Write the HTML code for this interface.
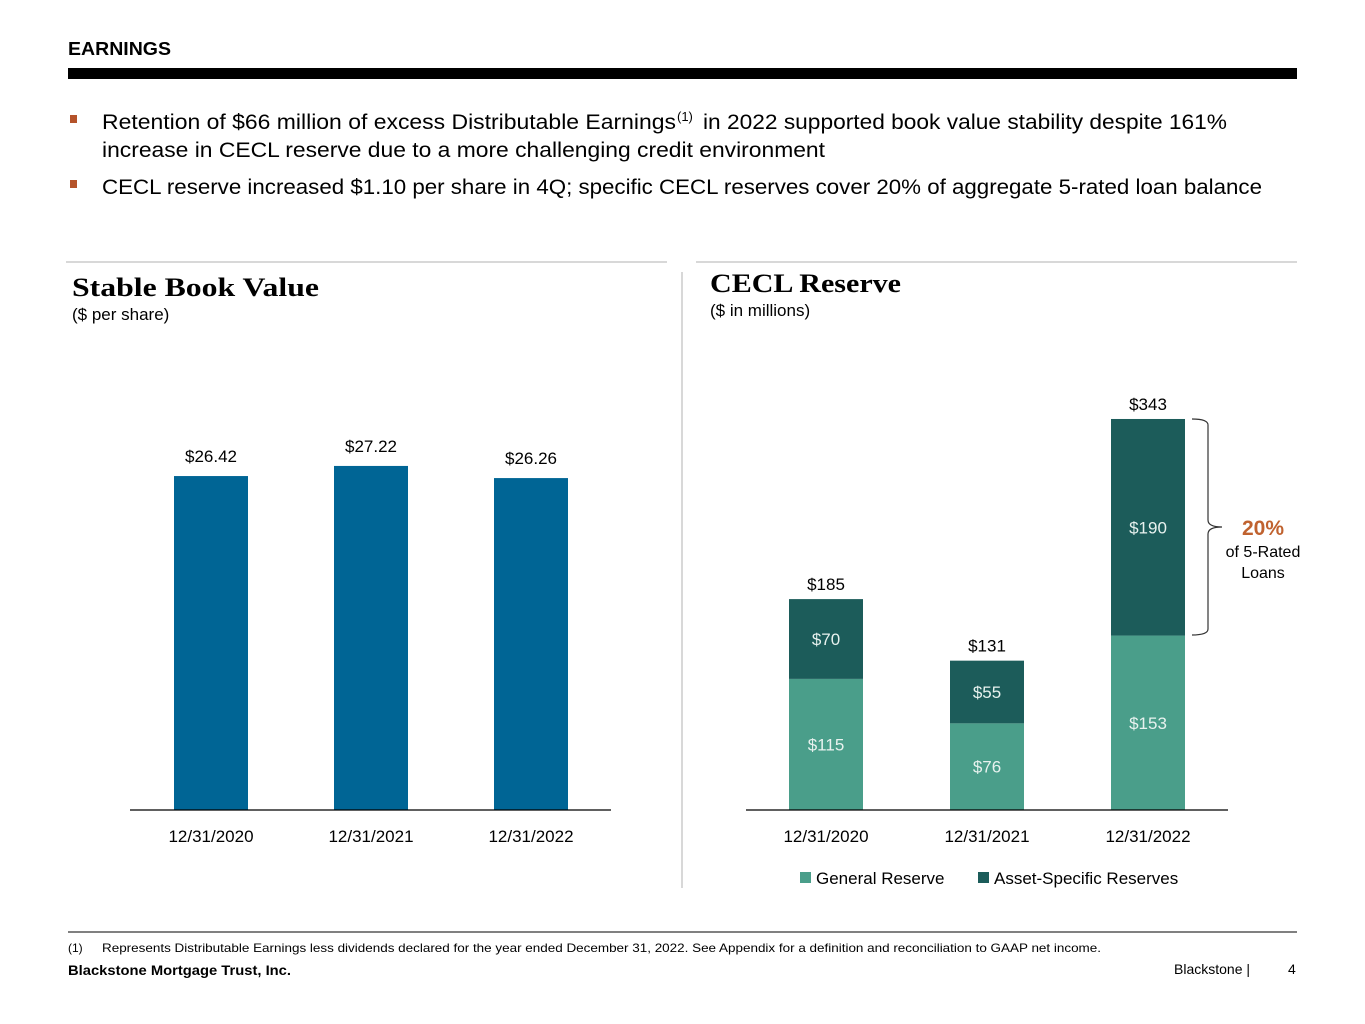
<!DOCTYPE html>
<html><head><meta charset="utf-8"><style>
body{margin:0;background:#fff;font-family:"Liberation Sans",sans-serif;}
svg{display:block}
</style></head><body>
<svg width="1365" height="1024" xmlns="http://www.w3.org/2000/svg" font-family="Liberation Sans, sans-serif">
<text x="68" y="55" font-size="18" font-weight="bold" fill="#000" textLength="103" lengthAdjust="spacingAndGlyphs">EARNINGS</text>
<rect x="68" y="68" width="1229" height="11" fill="#000"/>
<rect x="70" y="115" width="7" height="8" fill="#b5532a"/>
<text x="102" y="129" font-size="21" fill="#000" textLength="574" lengthAdjust="spacingAndGlyphs">Retention of $66 million of excess Distributable Earnings</text>
<text x="677" y="121" font-size="13" fill="#000">(1)</text>
<text x="703" y="129" font-size="21" fill="#000" textLength="524" lengthAdjust="spacingAndGlyphs">in 2022 supported book value stability despite 161%</text>
<text x="102" y="157" font-size="21" fill="#000" textLength="723" lengthAdjust="spacingAndGlyphs">increase in CECL reserve due to a more challenging credit environment</text>
<rect x="70" y="180" width="7" height="8" fill="#b5532a"/>
<text x="102" y="194" font-size="21" fill="#000" textLength="1160" lengthAdjust="spacingAndGlyphs">CECL reserve increased $1.10 per share in 4Q; specific CECL reserves cover 20% of aggregate 5-rated loan balance</text>
<line x1="66" y1="262" x2="667" y2="262" stroke="#ccc" stroke-width="1.5"/>
<line x1="696" y1="262" x2="1297" y2="262" stroke="#ccc" stroke-width="1.5"/>
<line x1="682" y1="272" x2="682" y2="888" stroke="#ccc" stroke-width="1.5"/>
<text x="72" y="296" font-size="26" font-weight="bold" font-family="Liberation Serif, serif" fill="#000" textLength="247" lengthAdjust="spacingAndGlyphs">Stable Book Value</text>
<text x="72" y="320" font-size="17" fill="#000">($ per share)</text>
<text x="710" y="292" font-size="26" font-weight="bold" font-family="Liberation Serif, serif" fill="#000" textLength="191" lengthAdjust="spacingAndGlyphs">CECL Reserve</text>
<text x="710" y="316" font-size="17" fill="#000">($ in millions)</text>
<g id="left"></g><g id="right"></g>
<path d="M1192 419 Q1208 419 1208 425 L1208 520 Q1208 527 1222 527 Q1208 527 1208 534 L1208 629 Q1208 635 1192 635" fill="none" stroke="#333" stroke-width="1.2"/>
<text x="1263" y="535" font-size="21" font-weight="bold" fill="#c0622f" text-anchor="middle">20%</text>
<text x="1263" y="557" font-size="16" fill="#000" text-anchor="middle">of 5-Rated</text>
<text x="1263" y="578" font-size="16" fill="#000" text-anchor="middle">Loans</text>
<rect x="800" y="872" width="11" height="11" fill="#4a9e8a"/>
<text x="816" y="884" font-size="17" fill="#000">General Reserve</text>
<rect x="978" y="872" width="11" height="11" fill="#1c5c5a"/>
<text x="994" y="884" font-size="17" fill="#000">Asset-Specific Reserves</text>
<line x1="68" y1="932" x2="1297" y2="932" stroke="#000" stroke-width="1"/>
<text x="68" y="952" font-size="12" fill="#000">(1)</text>
<text x="102" y="952" font-size="12" fill="#000" textLength="999" lengthAdjust="spacingAndGlyphs">Represents Distributable Earnings less dividends declared for the year ended December 31, 2022. See Appendix for a definition and reconciliation to GAAP net income.</text>
<text x="68" y="975" font-size="14" font-weight="bold" fill="#000" textLength="223" lengthAdjust="spacingAndGlyphs">Blackstone Mortgage Trust, Inc.</text>
<text x="1174" y="974" font-size="14" fill="#000">Blackstone  |</text>
<text x="1288" y="974" font-size="14" fill="#000">4</text>
</svg>
<script>
const cats=["12/31/2020","12/31/2021","12/31/2022"];
const bookValues=[26.42,27.22,26.26];
const bookLabels=["$26.42","$27.22","$26.26"];
const generalReserve=[115,76,153];
const specificReserve=[70,55,190];
const totalLabels=["$185","$131","$343"];
const NS="http://www.w3.org/2000/svg";
function mk(p,t,a,txt){const e=document.createElementNS(NS,t);for(const k in a)e.setAttribute(k,a[k]);if(txt!==undefined)e.textContent=txt;p.appendChild(e);return e;}
const base=810,bw=74;
const L=document.getElementById('left');
const lx=i=>211+i*160, ly=v=>base-v*12.64;
cats.forEach((c,i)=>{
 const r=mk(L,'rect',{x:lx(i)-bw/2,y:ly(bookValues[i]),width:bw,height:base-ly(bookValues[i]),fill:'#006595'});
 
 
 const t=mk(L,'text',{x:lx(i),y:ly(bookValues[i])-14,'font-size':17,'text-anchor':'middle'},bookLabels[i]);
 
 
 const x=mk(L,'text',{x:lx(i),y:842,'font-size':17,'text-anchor':'middle'},c);
 
 
});
const la=mk(L,'line',{x1:130,y1:base,x2:611,y2:base,stroke:'#000','stroke-width':1.2});


const R=document.getElementById('right');
const rx=i=>826+i*161, rs=v=>v*1.14;
cats.forEach((c,i)=>{
 const g=generalReserve[i],s=specificReserve[i];
 const gy=base-rs(g), sy=gy-rs(s);
 const r1=mk(R,'rect',{x:rx(i)-bw/2,y:gy,width:bw,height:rs(g),fill:'#4a9e8a'});
 
 
 const r2=mk(R,'rect',{x:rx(i)-bw/2,y:sy,width:bw,height:rs(s),fill:'#1c5c5a'});
 
 
 const t1=mk(R,'text',{x:rx(i),y:gy+rs(g)/2+6,'font-size':17,'text-anchor':'middle',fill:'#e8f2ef'},'$'+g);
 
 
 const t2=mk(R,'text',{x:rx(i),y:sy+rs(s)/2+6,'font-size':17,'text-anchor':'middle',fill:'#e8f2ef'},'$'+s);
 
 
 const t3=mk(R,'text',{x:rx(i),y:sy-9,'font-size':17,'text-anchor':'middle'},totalLabels[i]);
 
 
 const x=mk(R,'text',{x:rx(i),y:842,'font-size':17,'text-anchor':'middle'},c);
 
 
});
const ra=mk(R,'line',{x1:746,y1:base,x2:1228,y2:base,stroke:'#000','stroke-width':1.2});


</script>
</body></html>
